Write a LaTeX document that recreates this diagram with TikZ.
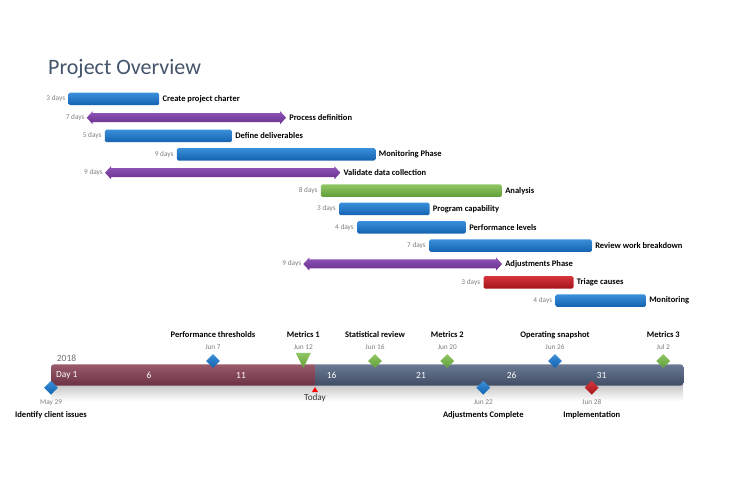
\documentclass[tikz,border=0pt]{standalone}
\usepackage{fontspec}
\setmainfont{Carlito}
\usetikzlibrary{shapes.geometric}
\definecolor{titlec}{HTML}{44546A}
\definecolor{grayc}{HTML}{7F7F7F}
\definecolor{bluetop}{HTML}{3A8FDA}
\definecolor{bluebot}{HTML}{1462B0}
\definecolor{purptop}{HTML}{9055B8}
\definecolor{purpbot}{HTML}{68308F}
\definecolor{greentop}{HTML}{8FC764}
\definecolor{greenbot}{HTML}{619E38}
\definecolor{redtop}{HTML}{D8353C}
\definecolor{redbot}{HTML}{A3141B}
\definecolor{marotop}{HTML}{9A5A6B}
\definecolor{marobot}{HTML}{6C3345}
\definecolor{slatetop}{HTML}{6B7A94}
\definecolor{slatebot}{HTML}{3F4C64}
\newcommand\gbar[7]{%
  \node[#2, anchor=west, minimum width={#4-#3}] (#1) at (#3,#5) {};
  \node[dayslbl, anchor=east] (#1d) at ([xshift=-3pt]#1.west) {#6 days};
  \node[barlbl, anchor=west] (#1l) at ([xshift=3pt]#1.east) {#7};
}
\newcommand\garrow[6]{%
  \node[inner sep=0pt, minimum height=13pt, minimum width={#3-#2}, anchor=west] (#1) at (#2,#4) {};
  \shade[purpfill] (#1.west) -- ([shift={(6,-6.5)}]#1.west) -- ([shift={(6,-4.5)}]#1.west)
    -- ([shift={(-6,-4.5)}]#1.east) -- ([shift={(-6,-6.5)}]#1.east) -- (#1.east)
    -- ([shift={(-6,6.5)}]#1.east) -- ([shift={(-6,4.5)}]#1.east)
    -- ([shift={(6,4.5)}]#1.west) -- ([shift={(6,6.5)}]#1.west) -- cycle;
  \node[dayslbl, anchor=east] (#1d) at ([xshift=-2pt]#1.west) {#5 days};
  \node[barlbl, anchor=west] (#1l) at ([xshift=3pt]#1.east) {#6};
}
\newcommand\msup[5]{% name x style label date
  \node[mslbl] (#1l) at (#2,335) {#4};
  \node[datelbl] (#1d) at (#2,346.7) {#5};
  \node[#3] (#1) at (#2,361) {};
}
\newcommand\msdown[5]{%
  \node[#3] (#1) at (#2,387.7) {};
  \node[datelbl] (#1d) at (#2,402.3) {#5};
  \node[mslbl] (#1l) at (#2,415.3) {#4};
}
\begin{document}
\begin{tikzpicture}[x=1pt,y=-1pt,
  bluebar/.style={rectangle, inner sep=0pt, minimum height=12.5pt, rounded corners=1.5pt, top color=bluetop, bottom color=bluebot},
  greenbar/.style={bluebar, top color=greentop, bottom color=greenbot},
  redbar/.style={bluebar, top color=redtop, bottom color=redbot},
  purpfill/.style={top color=purptop, bottom color=purpbot},
  dayslbl/.style={inner sep=0pt, font=\fontsize{7.3pt}{8pt}\selectfont, text=grayc},
  barlbl/.style={inner sep=0pt, font=\fontsize{8.5pt}{10pt}\selectfont\bfseries, text=black},
  mslbl/.style={inner sep=0pt, font=\fontsize{8.5pt}{10pt}\selectfont\bfseries, text=black},
  datelbl/.style={inner sep=0pt, font=\fontsize{7.3pt}{8pt}\selectfont, text=grayc},
  daynum/.style={inner sep=0pt, font=\fontsize{9.4pt}{11pt}\selectfont, text=white},
  bluedia/.style={diamond, inner sep=0pt, minimum width=14pt, minimum height=14pt, top color=bluetop, bottom color=bluebot},
  greendia/.style={bluedia, top color=greentop, bottom color=greenbot},
  reddia/.style={bluedia, top color=redtop, bottom color=redbot},
  greentri/.style={isosceles triangle, shape border rotate=-90, isosceles triangle stretches, inner sep=0pt, minimum width=15pt, minimum height=15pt, top color=greentop, bottom color=greenbot},
]
\useasboundingbox (0,0) rectangle (736,486);
% title
\node[anchor=base west, inner sep=0pt, text=titlec, font=\fontsize{22pt}{26pt}\selectfont] (title) at (48,75) {Project Overview};
% gantt rows
\gbar{b1}{bluebar}{68.3}{159}{99}{3}{Create project charter}
\garrow{a1}{86.7}{285.7}{117.7}{7}{Process definition}
\gbar{b2}{bluebar}{104.7}{231.7}{136}{5}{Define deliverables}
\gbar{b3}{bluebar}{176.7}{375.3}{154.3}{9}{Monitoring Phase}
\garrow{a2}{105}{340}{172.7}{9}{Validate data collection}
\gbar{b4}{greenbar}{320.7}{501.7}{190.7}{8}{Analysis}
\gbar{b5}{bluebar}{339}{429.3}{209}{3}{Program capability}
\gbar{b6}{bluebar}{357}{465.7}{227.3}{4}{Performance levels}
\gbar{b7}{bluebar}{429}{591.7}{245.7}{7}{Review work breakdown}
\garrow{a3}{303.3}{501.7}{264}{9}{Adjustments Phase}
\gbar{b8}{redbar}{483.3}{573.3}{282.3}{3}{Triage causes}
\gbar{b9}{bluebar}{555.3}{645.7}{300.7}{4}{Monitoring}
% timeline shadow
\shade[top color=black!22, bottom color=white] (51,385) rectangle (683,401);
% timeline bar
\node[inner sep=0pt, minimum width=632pt, minimum height=21pt, anchor=north west] (tl) at (51,364.3) {};
\begin{scope}
  \clip[rounded corners=3pt] (tl.north west) rectangle (tl.south east);
  \shade[top color=marotop, bottom color=marobot] (tl.north west) rectangle (315,385.3);
  \shade[top color=slatetop, bottom color=slatebot] (315,364.3) rectangle (tl.south east);
\end{scope}
\node[anchor=base west, inner sep=0pt, text=grayc!90!black, font=\fontsize{9.5pt}{11pt}\selectfont] (year) at (56.7,361) {2018};
\node[daynum, anchor=west] (d1) at (56,375) {Day 1};
\node[daynum] (d6) at (149,375) {6};
\node[daynum] (d11) at (241,375) {11};
\node[daynum] (d16) at (331.7,375) {16};
\node[daynum] (d21) at (421,375) {21};
\node[daynum] (d26) at (511.7,375) {26};
\node[daynum] (d31) at (601.7,375) {31};
% today
\node[isosceles triangle, shape border rotate=90, isosceles triangle stretches, inner sep=0pt, minimum width=6pt, minimum height=5pt, fill=red, anchor=apex] (todaytri) at (315,386.5) {};
\node[inner sep=0pt, font=\fontsize{9.2pt}{11pt}\selectfont, text=black!80, anchor=north] (today) at (315,394) {Today};
% milestones above
\msup{m1}{213}{bluedia}{Performance thresholds}{Jun 7}
\node[mslbl] (m2l) at (303.3,335) {Metrics 1};
\node[datelbl] (m2d) at (303.3,346.7) {Jun 12};
\node[greentri, anchor=apex] (m2) at (303.3,368.5) {};
\msup{m3}{375}{greendia}{Statistical review}{Jun 16}
\msup{m4}{447.3}{greendia}{Metrics 2}{Jun 20}
\msup{m5}{555}{bluedia}{Operating snapshot}{Jun 26}
\msup{m6}{663.3}{greendia}{Metrics 3}{Jul 2}
% milestones below
\msdown{n1}{51}{bluedia}{Identify client issues}{May 29}
\msdown{n2}{483.3}{bluedia}{Adjustments Complete}{Jun 22}
\msdown{n3}{591.7}{reddia}{Implementation}{Jun 28}
\end{tikzpicture}
\end{document}
